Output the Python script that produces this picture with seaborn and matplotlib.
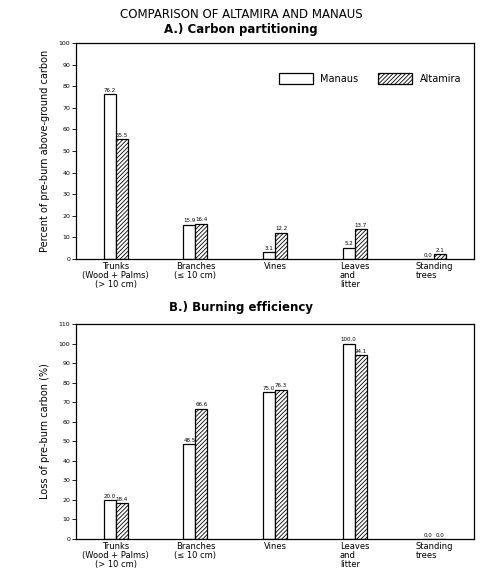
import matplotlib
matplotlib.use("Agg")
import matplotlib.pyplot as plt
import seaborn as sns
import pandas as pd

categories = ["Trunks\n(Wood + Palms)\n(> 10 cm)", "Branches\n(≤ 10 cm)", "Vines",
              "Leaves\nand\nlitter", "Standing\ntrees"]
sites = ["Manaus", "Altamira"]
partition_manaus = [76.2, 15.9, 3.1, 5.2, 0.0]
partition_altamira = [55.5, 16.4, 12.2, 13.7, 2.1]
burn_manaus = [20.0, 48.5, 75.0, 100.0, 0.0]
burn_altamira = [18.4, 66.6, 76.3, 94.1, 0.0]

sns.set_theme(style="white")
plt.rcParams['font.family'] = ['DejaVu Sans']
plt.rcParams['hatch.linewidth'] = 0.6
plt.rcParams['text.color'] = 'black'
plt.rcParams['axes.labelcolor'] = 'black'
plt.rcParams['xtick.color'] = 'black'
plt.rcParams['ytick.color'] = 'black'

def long_df(m, a):
    rows = []
    for c, v in zip(categories, m):
        rows.append({"cat": c, "site": "Manaus", "val": v})
    for c, v in zip(categories, a):
        rows.append({"cat": c, "site": "Altamira", "val": v})
    return pd.DataFrame(rows)

fig = plt.figure(figsize=(4.82, 5.77), dpi=100)
axA = fig.add_axes([76/482, 1-259/577, 398/482, 216/577])
axB = fig.add_axes([76/482, 1-539/577, 398/482, 215/577])

fig.text(0.5, 1-14/577, "COMPARISON OF ALTAMIRA AND MANAUS", ha="center", va="center",
         fontsize=8.5)
fig.text(0.5, 1-29/577, "A.) Carbon partitioning", ha="center", va="center", fontsize=8.5,
         fontweight="bold")
fig.text(0.5, 1-307/577, "B.) Burning efficiency", ha="center", va="center", fontsize=8.5,
         fontweight="bold")

def draw(ax, m, a, ymax, ylabel, legend):
    df = long_df(m, a)
    sns.barplot(data=df, x="cat", y="val", hue="site", hue_order=sites,
                palette={"Manaus": "white", "Altamira": "white"}, width=0.3,
                edgecolor="black", linewidth=0.9, ax=ax, legend=legend, errorbar=None)
    for p in ax.containers[1]:
        p.set_hatch("////////")
    for cont in ax.containers:
        ax.bar_label(cont, fmt="%.1f", fontsize=4, padding=1)
    ax.set_xlim(-0.5, 4.5)
    ax.set_ylim(0, ymax)
    ax.set_yticks(range(0, ymax + 1, 10))
    ax.tick_params(axis="y", labelsize=4.5, length=3, width=0.6, left=True, pad=1)
    ax.tick_params(axis="x", labelsize=6, length=0, pad=2)
    ax.set_xlabel("")
    ax.set_ylabel(ylabel, fontsize=7, labelpad=6)
    for s in ax.spines.values():
        s.set_color("black")
        s.set_linewidth(0.9)
    for lbl in ax.get_xticklabels():
        lbl.set_linespacing(1.0)
        if lbl.get_text().startswith(("Leaves", "Standing")):
            lbl.set_multialignment("left")

draw(axA, partition_manaus, partition_altamira, 100,
     "Percent of pre-burn above-ground carbon", True)
draw(axB, burn_manaus, burn_altamira, 110, "Loss of pre-burn carbon (%)", False)

leg = axA.get_legend()
if leg is not None:
    leg.remove()
handles = [axA.containers[0][0], axA.containers[1][0]]
axA.legend(handles, sites, ncol=2, frameon=False, loc="upper right",
           bbox_to_anchor=(0.99, 0.90), fontsize=7, handlelength=3.5, handleheight=1.3,
           columnspacing=2.0, handletextpad=0.8)

fig.savefig("out.png", dpi=100)
